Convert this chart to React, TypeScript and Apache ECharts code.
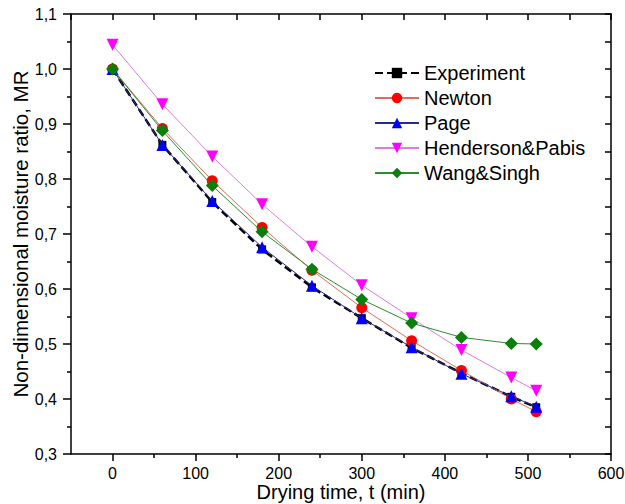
import React, { useEffect, useRef } from "react";
import * as echarts from "echarts";

const times = [0, 60, 120, 180, 240, 300, 360, 420, 480, 510];
const experiment = [1.0, 0.862, 0.758, 0.672, 0.603, 0.547, 0.493, 0.447, 0.404, 0.385];
const newton = [1.0, 0.892, 0.797, 0.712, 0.634, 0.566, 0.506, 0.452, 0.4, 0.377];
const page = [1.0, 0.862, 0.76, 0.676, 0.606, 0.547, 0.494, 0.446, 0.405, 0.386];
const henderson = [1.044, 0.936, 0.841, 0.754, 0.677, 0.607, 0.547, 0.489, 0.439, 0.415];
const wang = [1.0, 0.888, 0.788, 0.704, 0.636, 0.581, 0.538, 0.512, 0.501, 0.5];

const xMajorTicks = [0, 100, 200, 300, 400, 500, 600];
const xMinorTicks = [50, 150, 250, 350, 450, 550];

const FONT = "'Liberation Sans', Arial, sans-serif";

const pairs = (ys: number[]) => times.map((t, i) => [t, ys[i]]);

export default function App() {
  const ref = useRef<HTMLDivElement>(null);
  useEffect(() => {
    if (!ref.current) return;
    const chart = echarts.init(ref.current, null, { renderer: "svg" });
    const axisLine = { show: true, onZero: false, lineStyle: { color: "#000", width: 1.5 } };
    const option: any = {
      animation: false,
      backgroundColor: "#fff",
      grid: { left: 71, right: 14, top: 14, bottom: 50, containLabel: false, outerBoundsMode: "none" },
      legend: {
        orient: "vertical",
        left: 369,
        top: 58,
        itemWidth: 44,
        itemHeight: 13,
        itemGap: 5,
        textStyle: { fontFamily: FONT, fontSize: 20, color: "#000", lineHeight: 20 },
        data: ["Experiment", "Newton", "Page", "Henderson&Pabis", "Wang&Singh"],
      },
      xAxis: [
        {
          type: "value",
          position: "bottom",
          min: -50,
          max: 600,
          axisLine,
          splitLine: { show: false },
          axisTick: { show: true, inside: false, length: 7, customValues: xMajorTicks, lineStyle: { color: "#000", width: 1.5 } },
          axisLabel: { show: true, customValues: xMajorTicks, margin: 11, fontFamily: FONT, fontSize: 16, color: "#000" },
          name: "Drying time, t (min)",
          nameLocation: "middle",
          nameGap: 28,
          nameMoveOverlap: false,
          nameTextStyle: { fontFamily: FONT, fontSize: 20, color: "#000" },
        },
        {
          type: "value",
          position: "bottom",
          min: -50,
          max: 600,
          axisLine: { show: false, onZero: false },
          splitLine: { show: false },
          axisTick: { show: true, inside: false, length: 4, customValues: xMinorTicks, lineStyle: { color: "#000", width: 1.5 } },
          axisLabel: { show: false },
        },
        {
          type: "value",
          position: "top",
          min: -50,
          max: 600,
          interval: 50,
          axisLine,
          splitLine: { show: false },
          axisTick: { show: true, inside: true, length: 6, lineStyle: { color: "#000", width: 1.5 } },
          axisLabel: { show: false },
        },
      ],
      yAxis: [
        {
          type: "value",
          position: "left",
          min: 0.3,
          max: 1.1,
          interval: 0.1,
          axisLine,
          splitLine: { show: false },
          axisTick: { show: true, inside: false, length: 8, lineStyle: { color: "#000", width: 1.5 } },
          minorTick: { show: true, splitNumber: 2, length: 4, lineStyle: { color: "#000", width: 1.5 } },
          axisLabel: {
            margin: 14,
            fontFamily: FONT,
            fontSize: 16,
            color: "#000",
            formatter: (v: number) => v.toFixed(1).replace(".", ","),
          },
          name: "Non-dimensional moisture ratio, MR",
          nameLocation: "middle",
          nameGap: 40,
          nameMoveOverlap: false,
          nameTextStyle: { fontFamily: FONT, fontSize: 20.5, color: "#000" },
        },
        {
          type: "value",
          position: "right",
          min: 0.3,
          max: 1.1,
          interval: 0.05,
          axisLine,
          splitLine: { show: false },
          axisTick: { show: true, inside: true, length: 6, lineStyle: { color: "#000", width: 1.5 } },
          axisLabel: { show: false },
        },
      ],
      series: [
        {
          name: "Experiment",
          type: "line",
          data: pairs(experiment),
          symbol: "rect",
          symbolSize: 8,
          itemStyle: { color: "#000" },
          lineStyle: { color: "#000", width: 2.5, type: [8, 4] },
          z: 2,
        },
        {
          name: "Newton",
          type: "line",
          data: pairs(newton),
          symbol: "circle",
          symbolSize: 11,
          itemStyle: { color: "#ff0000" },
          lineStyle: { color: "#d9705c", width: 1 },
          z: 3,
        },
        {
          name: "Page",
          type: "line",
          data: pairs(page),
          symbol: "triangle",
          symbolSize: 12,
          itemStyle: { color: "#0000ff" },
          lineStyle: { color: "#2a2a90", width: 1 },
          z: 4,
        },
        {
          name: "Henderson&Pabis",
          type: "line",
          data: pairs(henderson),
          symbol: "triangle",
          symbolRotate: 180,
          symbolSize: 12,
          itemStyle: { color: "#ff00ff" },
          lineStyle: { color: "#e07ae0", width: 1 },
          z: 5,
        },
        {
          name: "Wang&Singh",
          type: "line",
          data: pairs(wang),
          symbol: "diamond",
          symbolSize: 13,
          itemStyle: { color: "#0a800a" },
          lineStyle: { color: "#2e8b2e", width: 1 },
          z: 6,
        },
      ],
    };
    chart.setOption(option);
    return () => chart.dispose();
  }, []);
  return <div ref={ref} style={{ width: 625, height: 504, position: "absolute", left: 0, top: 0 }} />;
}
